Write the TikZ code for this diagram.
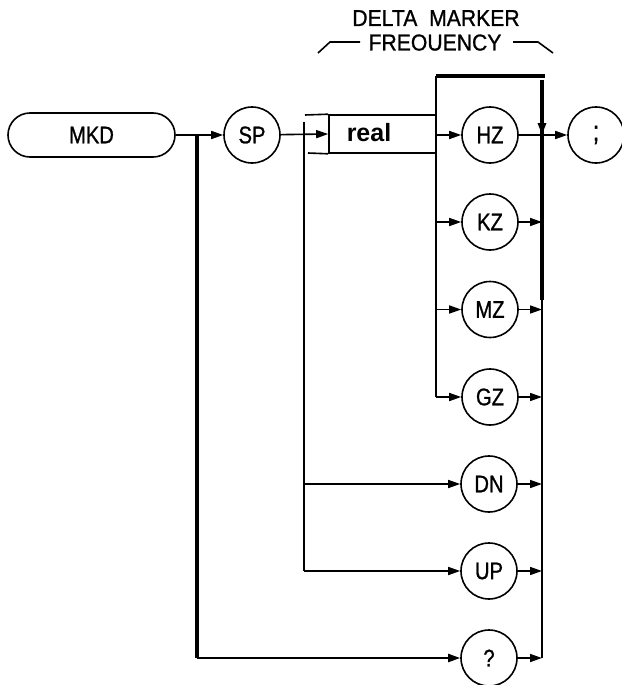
\documentclass[tikz,border=0pt]{standalone}
\usepackage{fontspec}
\setmainfont{Liberation Sans}[FakeStretch=0.84,FakeBold=1]
\newfontfamily\realfont{Liberation Sans}
\usetikzlibrary{arrows.meta}
\begin{document}
\begin{tikzpicture}[x=1pt,y=-1pt,
  ln/.style={line width=1.6pt},
  thk/.style={line width=3.4pt},
  tip/.style={-{Triangle[length=12pt,width=8pt]}},
  arr/.style={ln,tip},
  kw/.style={circle,draw,line width=1.6pt,minimum size=56pt,inner sep=0pt,font=\fontsize{24}{28}\selectfont},
  lbl/.style={font=\fontsize{24}{28}\selectfont,inner sep=0pt},
  ttl/.style={font=\fontsize{23}{26}\selectfont,inner sep=0pt,text height=15pt,text depth=0pt}]
\useasboundingbox (0,0) rectangle (621,685);
% title
\node[ttl,font=\fontsize{23}{26}\selectfont\addfontfeatures{FakeStretch=0.92}] (delta) at (436,18.5) {DELTA\ \ MARKER};
\node[ttl,font=\fontsize{23}{26}\selectfont\addfontfeatures{FakeStretch=0.92}] (freq) at (435,43) {FREOUENCY};
\draw[ln] (318,53) -- (330,42) -- (360,42);
\draw[ln] (513,42) -- (538,42) -- (553,53);
% nodes
\node[draw,line width=1.6pt,rounded corners=22pt,minimum width=167pt,minimum height=44pt,lbl] (mkd) at (91.5,135) {MKD};
\node[kw] (sp) at (252,135) {SP};
\node[draw,ln,minimum width=107pt,minimum height=38pt,inner sep=0pt] (realbox) at (382.5,134) {};
\node[font=\realfont\bfseries\fontsize{25}{28}\selectfont,inner sep=0pt] (realtxt) at (369,133) {real};
\node[kw] (hz) at (490,135) {HZ};
\node[kw] (kz) at (490,222) {KZ};
\node[kw] (mz) at (490,309.5) {MZ};
\node[kw] (gz) at (490,397) {GZ};
\node[kw] (dn) at (489,484) {DN};
\node[kw] (up) at (489,571) {UP};
\node[kw] (q) at (489,658) {?};
\node[kw,font=\fontsize{28}{30}\selectfont] (semi) at (596,135) {;};
% coordinates
\coordinate (j1) at (197,135);
\coordinate (j1b) at (197,658);
\coordinate (j2t) at (304,122);
\coordinate (j2dn) at (304,484);
\coordinate (j2b) at (304,571);
\coordinate (bltop) at (436,76);
\coordinate (blhz) at (436,135);
\coordinate (blkz) at (436,222);
\coordinate (blmz) at (436,309.5);
\coordinate (blgz) at (436,397);
\coordinate (topr) at (545,76);
\coordinate (brtop) at (542,80);
\coordinate (brarr) at (542,100);
\coordinate (brhz) at (542,135);
\coordinate (brkz) at (542,222);
\coordinate (brmz) at (542,309.5);
\coordinate (brmid) at (542,300);
\coordinate (brgz) at (542,397);
\coordinate (brdn) at (542,484);
\coordinate (brup) at (542,571);
\coordinate (brq) at (542,658);
\coordinate (boxtl) at (305,115);
\coordinate (boxbl) at (308,153);
% main path
\draw[ln] (mkd.east) -- (j1);
\draw[arr] (j1) -- (sp);
\draw[thk] (j1) -- (j1b);
\draw[ln,line width=2.2pt,tip] (j1b) -- (q);
\draw[arr] (sp) -- (realbox.west);
\draw[ln] (j2t) -- (j2b);
\draw[arr] (j2dn) -- (dn);
\draw[arr] (j2b) -- (up);
\draw[ln] (boxtl) -- (realbox.north west);
\draw[ln] (boxbl) -- (realbox.south west);
% frequency group
\draw[thk] (bltop) -- (topr);
\draw[ln] (bltop) -- (blgz);
\draw[arr] (blhz) -- (hz);
\draw[arr] (blkz) -- (kz);
\draw[arr] (blmz) -- (mz);
\draw[arr] (blgz) -- (gz);
% right bus
\draw[thk] (brtop) -- (brmid);
\draw[ln] (brmid) -- (brq);
\draw[thk,tip] (brarr) -- (brhz);
\draw[ln] (hz) -- (brhz);
\draw[arr] (brhz) -- (semi);
\draw[arr] (kz) -- (brkz);
\draw[arr] (mz) -- (brmz);
\draw[arr] (gz) -- (brgz);
\draw[arr] (dn) -- (brdn);
\draw[arr] (up) -- (brup);
\draw[arr] (q) -- (brq);
\end{tikzpicture}
\end{document}
